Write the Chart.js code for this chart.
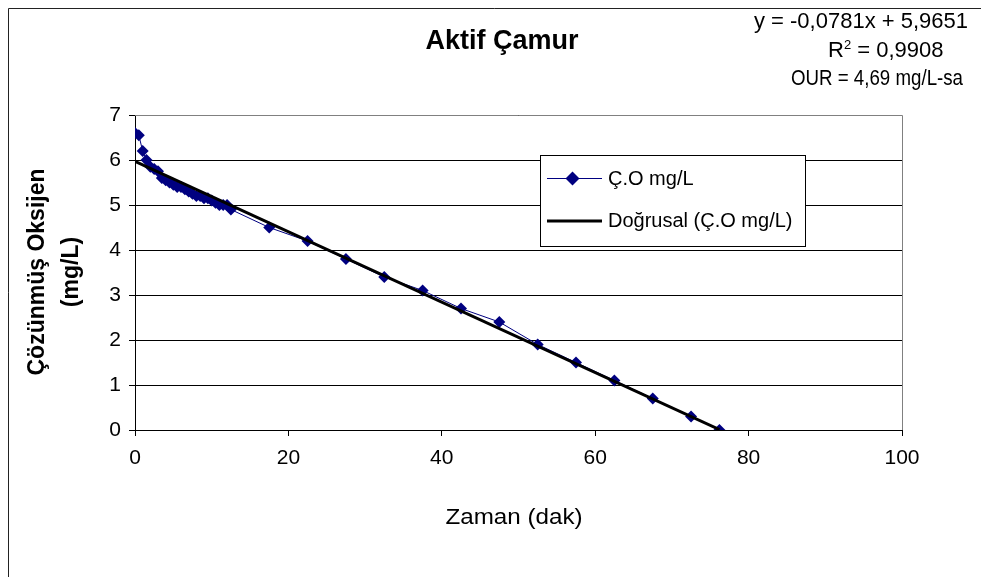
<!DOCTYPE html>
<html><head><meta charset="utf-8">
<script src="https://cdn.jsdelivr.net/npm/chart.js"></script>
<style>html,body{margin:0;padding:0;background:#fff}#wrap{width:981px;height:577px}</style>
</head><body><div id="wrap"><canvas id="c" width="981" height="577"></canvas></div>
<script>
const timeMin = [0,0.5,1,1.5,2,2.5,3,3.5,4,4.5,5,5.5,6,6.5,7,7.5,8,8.5,9,9.5,10,10.5,11,11.5,12,12.5,17.5,22.5,27.5,32.5,37.5,42.5,47.5,52.5,57.5,62.5,67.5,72.5,76.2];
const doValues = [6.6,6.55,6.2,6.0,5.85,5.8,5.75,5.6,5.55,5.5,5.45,5.4,5.4,5.35,5.3,5.25,5.2,5.2,5.15,5.15,5.1,5.05,5.0,5.0,5.0,4.9,4.5,4.2,3.8,3.4,3.1,2.7,2.4,1.9,1.5,1.1,0.7,0.3,0.0];
const trendX = [0,76.2];
const trendY = [5.97,0.01];
const xTicks = [0,20,40,60,80,100];
const yTicks = [0,1,2,3,4,5,6,7];
const titleText = 'Aktif Çamur';
const xTitle = 'Zaman (dak)';
const yTitle = ['Çözünmüş Oksijen','(mg/L)'];
const eqLines = ['y = -0,0781x + 5,9651','R² = 0,9908','OUR = 4,69 mg/L-sa'];
const seriesNames = ['Ç.O mg/L','Doğrusal (Ç.O mg/L)'];

const FONT = '"Liberation Sans", Arial, sans-serif';
const obsData = timeMin.map((x,i)=>({x, y: doValues[i]}));
const trendData = trendX.map((x,i)=>({x, y: trendY[i]}));

const decor = {
  id: 'decor',
  beforeDraw(chart){
    const ctx = chart.ctx;
    ctx.save();
    ctx.fillStyle = '#fff';
    ctx.fillRect(0,0,chart.width,chart.height);
    ctx.strokeStyle = '#222';
    ctx.lineWidth = 1;
    ctx.beginPath();
    ctx.moveTo(8.5,577); ctx.lineTo(8.5,8.5); ctx.lineTo(981,8.5);
    ctx.stroke();
    ctx.restore();
  },
  afterDraw(chart){
    const ctx = chart.ctx;
    const a = chart.chartArea;
    ctx.save();
    ctx.strokeStyle = '#808080'; ctx.lineWidth = 1;
    ctx.beginPath();
    ctx.moveTo(a.left, a.top+0.5); ctx.lineTo(a.right+0.5, a.top+0.5); ctx.lineTo(a.right+0.5, a.bottom);
    ctx.stroke();
    ctx.fillStyle = '#000';
    ctx.font = 'bold 27px ' + FONT;
    ctx.textAlign = 'center'; ctx.textBaseline = 'middle';
    ctx.fillText(titleText, 502, 42);
    // equation text
    ctx.font = '22px ' + FONT;
    ctx.fillText(eqLines[0], 861, 22);
    ctx.textAlign = 'left';
    ctx.fillText('R', 828, 51);
    const rw = ctx.measureText('R').width;
    ctx.font = '13px ' + FONT;
    ctx.fillText('2', 828 + rw, 45);
    const sw = ctx.measureText('2').width;
    ctx.font = '22px ' + FONT;
    ctx.fillText(' = 0,9908', 828 + rw + sw, 51);
    ctx.textAlign = 'center';
    ctx.save();
    ctx.translate(877, 79);
    ctx.scale(0.85, 1);
    ctx.fillText(eqLines[2], 0, 0);
    ctx.restore();
    // axis titles
    ctx.save();
    ctx.font = '22px ' + FONT;
    ctx.translate(514, 518);
    ctx.scale(1.1, 1);
    ctx.fillText(xTitle, 0, 0);
    ctx.restore();
    ctx.font = 'bold 23px ' + FONT;
    ctx.translate(0, 272);
    ctx.rotate(-Math.PI/2);
    ctx.fillText(yTitle[0], 0, 38);
    ctx.fillText(yTitle[1], 0, 72);
    ctx.setTransform(1,0,0,1,0,0);
    // legend
    const lx = 540.5, ly = 155.5, lw = 265, lh = 91;
    ctx.fillStyle = '#fff';
    ctx.fillRect(lx, ly, lw, lh);
    ctx.strokeStyle = '#000'; ctx.lineWidth = 1;
    ctx.strokeRect(lx, ly, lw, lh);
    ctx.strokeStyle = '#000080'; ctx.lineWidth = 1;
    ctx.beginPath(); ctx.moveTo(547, 178.5); ctx.lineTo(602, 178.5); ctx.stroke();
    ctx.fillStyle = '#000080';
    ctx.beginPath(); ctx.moveTo(572.5,171.5); ctx.lineTo(579.5,178.5); ctx.lineTo(572.5,185.5); ctx.lineTo(565.5,178.5); ctx.closePath(); ctx.fill();
    ctx.strokeStyle = '#000'; ctx.lineWidth = 3;
    ctx.beginPath(); ctx.moveTo(547, 221); ctx.lineTo(602, 221); ctx.stroke();
    ctx.fillStyle = '#000';
    ctx.font = '20px ' + FONT;
    ctx.textAlign = 'left';
    ctx.fillText(seriesNames[0], 608, 179);
    ctx.fillText(seriesNames[1], 608, 221);
    ctx.restore();
  }
};

new Chart(document.getElementById('c'), {
  type: 'scatter',
  data: { datasets: [
    { label: seriesNames[0], data: obsData, showLine: true, borderColor: '#000080', borderWidth: 1,
      pointStyle: 'rectRot', pointRadius: 6, pointBackgroundColor: '#000080', pointBorderColor: '#000080', pointBorderWidth: 0, order: 2 },
    { label: seriesNames[1], data: trendData, showLine: true, borderColor: '#000', borderWidth: 3, pointRadius: 0, order: 1 }
  ]},
  options: {
    responsive: false, animation: false, devicePixelRatio: 1,
    layout: { padding: { top: 115, right: 79, left: 0, bottom: 0 } },
    plugins: { legend: { display: false }, tooltip: { enabled: false } },
    scales: {
      x: { type: 'linear', min: 0, max: 100, afterFit(s){ s.height = 147; },
        afterBuildTicks(s){ s.ticks = xTicks.map(v=>({value:v})); },
        grid: { display: true, drawOnChartArea: false, drawTicks: true, tickLength: 6, color: '#000' },
        border: { color: '#000', width: 1 },
        ticks: { color: '#000', font: { family: FONT, size: 21 }, padding: 10, maxRotation: 0 } },
      y: { type: 'linear', min: 0, max: 7, afterFit(s){ s.width = 135; },
        afterBuildTicks(s){ s.ticks = yTicks.map(v=>({value:v})); },
        grid: { display: true, drawOnChartArea: true, drawTicks: true, tickLength: 6, color: '#000' },
        border: { color: '#000', width: 1 },
        ticks: { color: '#000', font: { family: FONT, size: 21 }, padding: 8 } }
    }
  },
  plugins: [decor]
});
</script></body></html>
